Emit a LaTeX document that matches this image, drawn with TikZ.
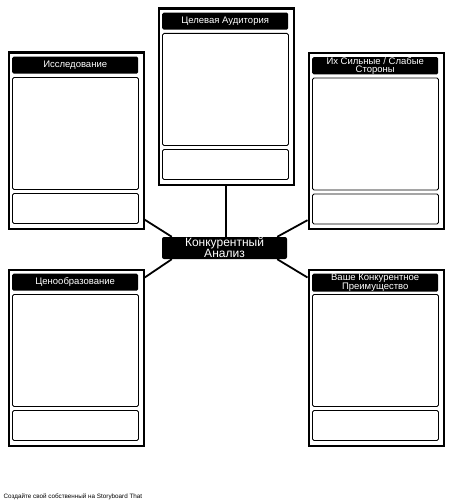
\documentclass[tikz,border=0pt]{standalone}
\usepackage{fontspec}
\setmainfont{Liberation Sans}
\usetikzlibrary{calc}
\tikzset{
  frame/.style={draw=black,line width=2.2pt,fill=white,minimum width=135pt,minimum height=176pt,inner sep=0pt,anchor=north west},
  headbox/.style={fill=black,rounded corners=1.5pt,minimum width=126pt,minimum height=17pt,inner sep=0pt,anchor=north west,text=white,font=\fontsize{9.5pt}{8.2pt}\selectfont,align=center},
  inbox/.style={draw=black,line width=0.9pt,rounded corners=1.5pt,minimum width=126pt,inner sep=0pt,anchor=north west},
  centerbox/.style={fill=black,rounded corners=2pt,minimum width=125pt,minimum height=22pt,inner sep=0pt,text=white,font=\fontsize{12pt}{10.5pt}\selectfont,align=center,text height=19.5pt,text depth=0pt},
  link/.style={draw=black,line width=1.8pt},
  footer/.style={font=\fontsize{6.3pt}{7pt}\selectfont,anchor=base west,inner sep=0pt}
}
\newcommand{\cardbox}[4]{%
  \node[frame] (#1) at (#2,#3) {};
  \node[headbox] (#1-h) at (#2+4.5,#3+5) {#4};
  \node[inbox,minimum height=112pt] (#1-c) at (#2+4.5,#3+25.5) {};
  \node[inbox,minimum height=30pt] (#1-b) at (#2+4.5,#3+141.5) {};
}
\begin{document}
\begin{tikzpicture}[x=1pt,y=-1pt]
\useasboundingbox (0,0) rectangle (450,503);
\node[centerbox] (c) at (224.5,248) {Конкурентный\\Анализ};
\cardbox{a}{7.5}{51.5}{Исследование}
\cardbox{t}{157.5}{7.5}{Целевая Аудитория}
\cardbox{s}{307.5}{52}{Их Сильные / Слабые\\Стороны}
\cardbox{p}{7.5}{268.5}{Ценообразование}
\cardbox{v}{307.5}{268.5}{Ваше Конкурентное\\Преимущество}
\draw[link] (t.south) -- (t.south |- c.north);
\draw[link] ($(a.south east)+(0,-10)$) -- ($(c.north west)+(10,0)$);
\draw[link] ($(s.south west)+(0,-10)$) -- ($(c.north east)+(-10,0)$);
\draw[link] ($(p.north east)+(0,9)$) -- ($(c.south west)+(10,0)$);
\draw[link] ($(v.north west)+(0,9)$) -- ($(c.south east)+(-10,0)$);
\node[footer] (f) at (3.5,498) {Создайте свой собственный на Storyboard That};
\end{tikzpicture}
\end{document}
